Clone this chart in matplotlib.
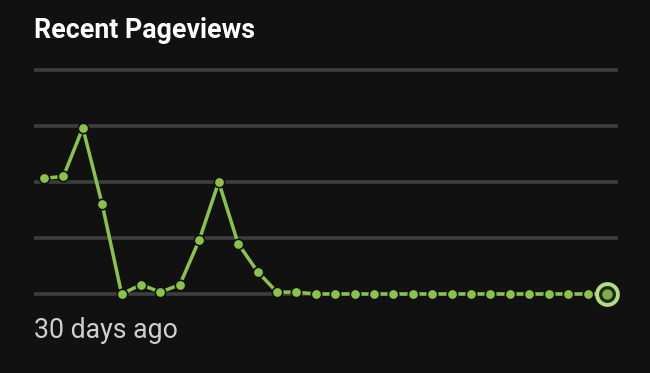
import numpy as np
import matplotlib
matplotlib.use("Agg")
import matplotlib.pyplot as plt

# pageviews per day, oldest first (30 days)
views = [62, 63, 89, 48, 0, 5, 1, 5, 29, 60, 27, 12, 1, 1, 0,
         0, 0, 0, 0, 0, 0, 0, 0, 0, 0, 0, 0, 0, 0, 0]
grid_vals = [0, 30, 60, 90, 120]
title = "Recent Pageviews"
footer = "30 days ago"

bg = "#111111"
green = "#8bc34a"

plt.rcParams['font.family'] = ['Roboto', 'DejaVu Sans']

fig = plt.figure(figsize=(6.5, 3.73), dpi=100, facecolor=bg)
ax = fig.add_axes([34/650, 1 - 294/373, 584/650, 224/373])
ax.set_facecolor(bg)

x = np.arange(len(views))
for g in grid_vals:
    ax.axhline(g, color="#3e3e3e", lw=2.6, zorder=1, clip_on=False,
               solid_capstyle='butt')

ax.plot(x, views, color=green, lw=2.5, zorder=2, clip_on=False)
ax.plot(x, views, ls='', marker='o', ms=7.5, mfc=green, mec=bg, mew=1.2,
        zorder=3, clip_on=False)
# highlighted last point
ax.plot(x[-1], views[-1], marker='o', ms=15, mfc="#1e2a14", mec="#b5dc85", mew=2.8,
        zorder=4, clip_on=False)
ax.plot(x[-1], views[-1], marker='o', ms=7.5, mfc="#7fae48", mec='none',
        zorder=5, clip_on=False)

ax.set_xlim(-0.515, 29.57)
ax.set_ylim(0, 120)
for s in ax.spines.values():
    s.set_visible(False)
ax.set_xticks([])
ax.set_yticks([])

fig.text(34/650, 1 - 37.7/373, title, color="white", fontsize=19.3,
         fontweight='bold', va='baseline', ha='left')
fig.text(34/650, 1 - 338/373, footer, color="#cfcfcf", fontsize=19.2,
         va='baseline', ha='left')

fig.savefig("out.png", dpi=100, facecolor=bg)
